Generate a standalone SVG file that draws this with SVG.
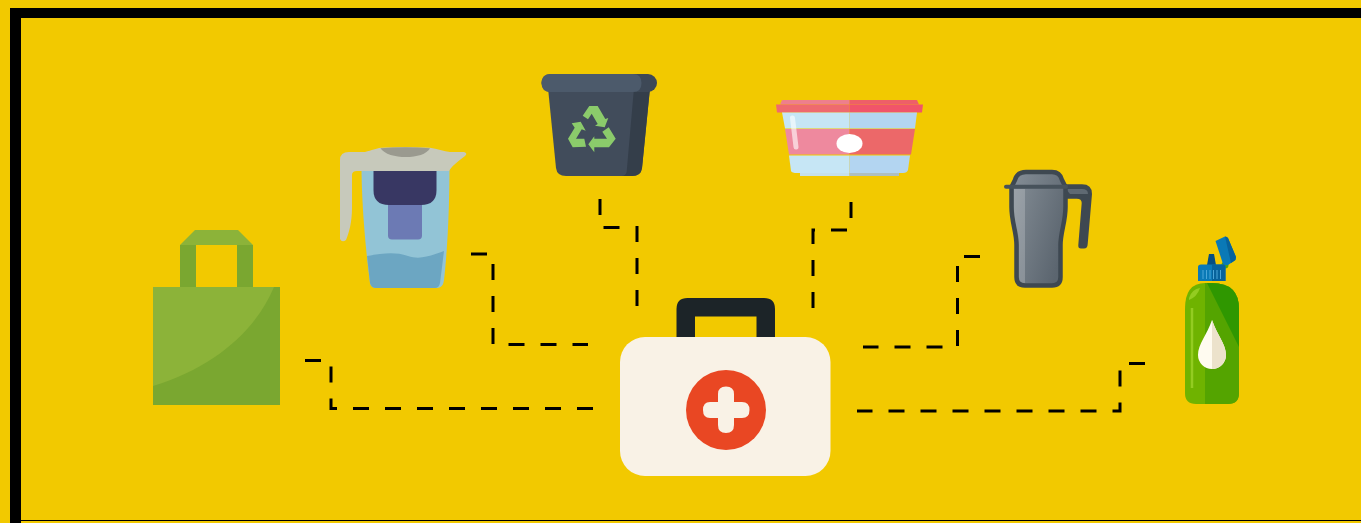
<svg xmlns="http://www.w3.org/2000/svg" width="1361" height="523" viewBox="0 0 1361 523">
<style>
.c{fill:none;stroke:#000;stroke-width:3;stroke-dasharray:16 16}
</style>
<defs>
<linearGradient id="mug" x1="0" y1="0" x2="1" y2="0.6"><stop offset="0" stop-color="#868f97"/><stop offset="1" stop-color="#5b656f"/></linearGradient>
</defs>
<rect width="1361" height="523" fill="#f2c900"/>
<path d="M10 523V8H1361V18H21V520H1361V521H21V523Z" fill="#000"/>
<g id="connectors">
<path class="c" d="M305 360.500H331V408.500H595"/>
<path class="c" d="M471 254H493V344.500H588"/>
<path class="c" d="M600 199V227.500H637V306"/>
<path class="c" d="M851 202V230H813V309"/>
<path class="c" d="M980 256.500H957.500V347H863"/>
<path class="c" d="M1145 363.500H1120V411H857"/>
</g>
<g id="bag">
<path d="M180 245L195 230H238L253 245Z" fill="#8cb339"/>
<path d="M180 245H196V288H180ZM237 245H253V288H237Z" fill="#7aa730"/>
<rect x="153" y="287" width="127" height="118" fill="#7aa730"/>
<path d="M153 287H274C256 330 215 367 153 386Z" fill="#8cb339"/>
</g>
<g id="pitcher">
<path d="M361.500 165H449.500C449.500 200 448 245 444 280Q443 288 437 288H376Q371 288 370 283C365 245 361.500 200 361.500 165Z" fill="#92c4d6"/>
<path d="M367 256C385 253 395 252 408 256C420 260 430 256 444 251L440 283Q439 288 435 288H376Q371 288 370 283Z" fill="#6ca6c2"/>
<rect x="388" y="190" width="34" height="49.500" rx="4" fill="#6c7ab4"/>
<path d="M373.500 171H436.500V190Q436.500 205 421 205H389Q373.500 205 373.500 190Z" fill="#383763"/>
<path d="M340 160Q340 152 349 152H365C372 150 376 148.500 381 147.700C395 147 415 147 430 147.700C437 149 444 151 450 152H464Q468 153 465 156C458 161 451 167 449 171H357Q352 171 352 175V208C352 222 349 233 346 240Q342 243 340 239Z" fill="#c7c9bb"/>
<path d="M380.500 148.200Q405 146.300 430 148.200C424 160 388 160 380.500 148.200Z" fill="#9a9a8f"/>
</g>
<g id="bin">
<path d="M548 88H650L642 168Q641 176 632 176H566Q557 176 556 168Z" fill="#414c5b"/>
<path d="M634 88H650L642 168Q641 176 632 176H622Q627 176 627 168Z" fill="#343e4a"/>
<rect x="541.500" y="74" width="115.500" height="18" rx="9" fill="#3d4856"/>
<path d="M550.500 74H633Q641.500 74 641.500 83Q641.500 92 633 92H550.500Q541.500 92 541.500 83Q541.500 74 550.500 74Z" fill="#4c5a6b"/>
<g fill="#8bcb6b">
<path d="M582.700 115.700L589.300 106H597.700L605.300 119L608.300 118L604.700 127.300L595 125.700L597.700 124L591.700 113.700L588 119.300Z"/>
<path d="M571.700 123.300L580.700 121.700L585.700 130.700L581.700 129.300L576 138.700H584.300L586 146.700 572.700 147.300L568 138.700L574.700 127.700Z"/>
<path d="M588.300 144.300L594.300 136.300V138.700H607L602.300 131.700L608.700 127.300L615.700 138.700L609 147.300H594.300V152.300Z"/>
</g>
</g>
<g id="tub">
<path d="M782 100H849.500V104.500H780Z" fill="#ee7f8c"/>
<path d="M849.500 100H917L919 104.500H849.500Z" fill="#ee5f68"/>
<path d="M776 104.500H849.500V112.500H777Z" fill="#ef6a6f"/>
<path d="M849.500 104.500H923L922 112.500H849.500Z" fill="#f1546a"/>
<path d="M782 112.500H849.500V128.500H785Z" fill="#c6e6f5"/>
<path d="M849.500 112.500H917L915 128.500H849.500Z" fill="#b3d5f1"/>
<path d="M785 129H849.500V154.500H789Z" fill="#ee899e"/>
<path d="M849.500 129H915L911 154.500H849.500Z" fill="#ec6869"/>
<path d="M789 155.500H849.500V173H797Q792 173 791 171Z" fill="#c6e6f5"/>
<path d="M849.500 155.500H910L908 170Q907 173 903 173H849.500Z" fill="#b3d5f1"/>
<path d="M800 173H849.500V176H800Z" fill="#c6e0ea"/>
<path d="M849.500 173H899V176H849.500Z" fill="#aebfc0"/>
<ellipse cx="849.500" cy="143.500" rx="13" ry="9.500" fill="#fff"/>
<path d="M792.500 118L796 147" stroke="#fff" stroke-opacity=".6" stroke-width="5" stroke-linecap="round" fill="none"/>
</g>
<g id="mug-item">
<path d="M1064 184.300H1082Q1092 184.300 1092 194L1087.700 244Q1087.500 248.500 1084 248.500H1081Q1078 248.500 1078.300 245L1081.700 203Q1081.700 198.700 1076.700 198.700H1064Z" fill="#3e4851"/>
<path d="M1066 189H1082Q1088 189 1088 194H1070Z" fill="#5f6972"/>
<path d="M1026 172H1052Q1060 172 1062 180L1065.500 187V207C1065.500 222 1060.500 232 1060.500 245V277Q1060.500 285.500 1052 285.500H1025Q1016.500 285.500 1016.500 277V245C1016.500 232 1011.500 222 1011.500 207V187L1015 180Q1017 172 1026 172Z" fill="url(#mug)" stroke="#3e4851" stroke-width="4.500"/>
<path d="M1014 189V207C1014 222 1019 232 1019 245V277Q1019 283 1025 283V189Z" fill="#fff" fill-opacity=".2"/>
<path d="M1006 186.800H1066" stroke="#47525b" stroke-width="4" stroke-linecap="round"/>
</g>
<g id="bottle">
<path d="M1205 283H1212Q1239 283 1239 309V393Q1239 404 1228 404H1196Q1185 404 1185 393V309Q1185 283 1205 283Z" fill="#6fb300"/>
<path d="M1205 283H1212Q1239 283 1239 309V393Q1239 404 1228 404H1205Z" fill="#54a400"/>
<path d="M1207 283H1212Q1239 283 1239 309V347Z" fill="#2f9700"/>
<path d="M1192 308V388" stroke="#93cc21" stroke-width="2.500" fill="none"/>
<path d="M1189 298Q1192 289 1200 288Q1197 297 1189 300Z" fill="#93cc21"/>
<path d="M1212 320C1207 335 1198 344 1198 355A14 14 0 0 0 1226 355C1226 344 1217 335 1212 320Z" fill="#fffbf0"/>
<path d="M1212 320C1217 335 1226 344 1226 355A14 14 0 0 1 1212 369Z" fill="#ece2cb"/>
<path d="M1221 266L1216 272L1222 270Z" fill="#74b300"/>
<circle cx="1225" cy="265" r="3.500" fill="#54a400"/>
<path d="M1215.500 241L1225 236.500Q1227 236.500 1228 238L1236 257Q1236 260 1234 261L1228 265Q1225 266 1223 264Z" fill="#0a79b6"/>
<path d="M1225 236.500Q1227 236.500 1228 238L1236 257Q1236 260 1234 261L1231 263Z" fill="#07629b"/>
<path d="M1207 265L1209 254H1214L1216 265Z" fill="#074f80"/>
<path d="M1201 264.500H1223Q1225.500 264.500 1225.500 267V281H1198V267Q1198 264.500 1201 264.500Z" fill="#0a79b6"/>
<path d="M1212 264.500H1223Q1225.500 264.500 1225.500 267V281H1212Z" fill="#07629b"/>
<path d="M1203 270V279M1206.500 270V279M1210 270V279M1213.500 270V279M1217 270V279M1220.500 270V279" stroke="#4aa6d8" stroke-width="1"/>
</g>
<g id="kit">
<path d="M676.500 337V309Q676.500 298 687.500 298H764Q775 298 775 309V337H756.500V316.500H695V337Z" fill="#1c2428"/>
<rect x="620" y="337" width="210.500" height="139" rx="25" fill="#f9f2e6"/>
<circle cx="726" cy="410" r="40" fill="#e94723"/>
<path d="M726 386.500Q734 386.500 734 394V402H742Q749.500 402 749.500 410Q749.500 418 742 418H734V425Q734 433 726 433Q718 433 718 425V418H710Q703 418 703 410Q703 402 710 402H718V394Q718 386.500 726 386.500Z" fill="#f9f2e6"/>
</g>
</svg>
